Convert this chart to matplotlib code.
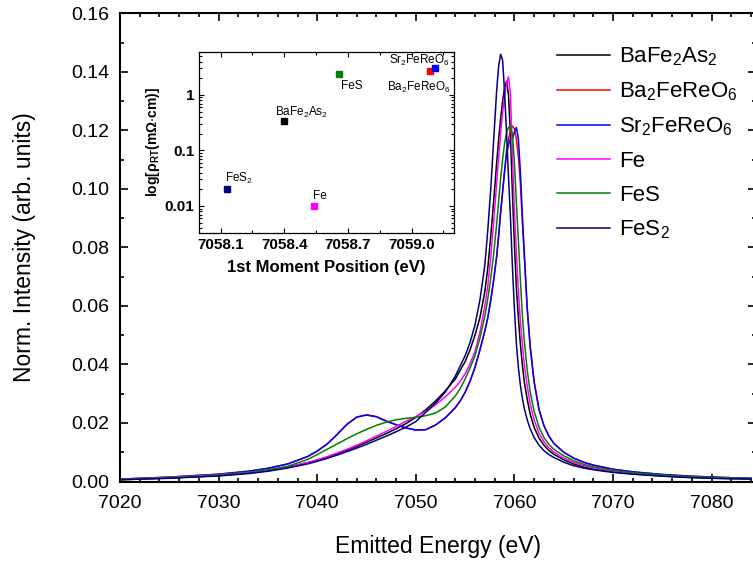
import numpy as np
import matplotlib
matplotlib.use("Agg")
import matplotlib.pyplot as plt
from matplotlib.ticker import MultipleLocator, FormatStrFormatter, FixedLocator, LogLocator, NullFormatter

plt.rcParams["font.family"] = ["Liberation Sans", "DejaVu Sans"]
plt.rcParams["mathtext.fontset"] = "custom"
plt.rcParams["mathtext.rm"] = "Liberation Sans"
plt.rcParams["mathtext.it"] = "Liberation Sans:italic"
plt.rcParams["mathtext.bf"] = "Liberation Sans:bold"
plt.rcParams["mathtext.default"] = "regular"

# emitted energy grid (eV)
energy = [7020, 7025, 7030, 7033, 7035, 7037, 7039, 7040, 7041, 7042, 7043, 7044,
          7045, 7046, 7047, 7048, 7049, 7050, 7051, 7052, 7053, 7054, 7054.5, 7055,
          7055.5, 7056, 7056.5, 7057, 7057.3, 7057.6, 7057.9, 7058.2, 7058.4, 7058.6,
          7058.8, 7059.0, 7059.2, 7059.4, 7059.6, 7059.8, 7060.0, 7060.2, 7060.4,
          7060.6, 7060.8, 7061.0, 7061.3, 7061.6, 7062.0, 7062.5, 7063, 7063.5, 7064,
          7065, 7066, 7067, 7068, 7070, 7072, 7075, 7078, 7081, 7084]

bafe2as2 = [0.0006, 0.0012, 0.0020, 0.0029, 0.0037, 0.0049, 0.0064, 0.0073, 0.0083, 0.0095,
            0.0107, 0.0120, 0.0134, 0.0149, 0.0164, 0.0180, 0.0198, 0.0219, 0.0245, 0.0275,
            0.0310, 0.0350, 0.0380, 0.0410, 0.0450, 0.0500, 0.0560, 0.0650, 0.0730, 0.0840,
            0.0960, 0.1090, 0.1170, 0.1240, 0.1300, 0.1345, 0.1368, 0.1320, 0.1180, 0.0980,
            0.0810, 0.0660, 0.0560, 0.0470, 0.0400, 0.0340, 0.0280, 0.0230, 0.0185, 0.0148,
            0.0124, 0.0106, 0.0093, 0.0074, 0.0060, 0.0050, 0.0043, 0.0033, 0.0026, 0.0019,
            0.0014, 0.0011, 0.0009]

ba2fereo6 = [0.0008, 0.0015, 0.0025, 0.0035, 0.0045, 0.0060, 0.0085, 0.0104, 0.0128, 0.0160,
             0.0195, 0.0220, 0.0228, 0.0222, 0.0207, 0.0194, 0.0183, 0.0176, 0.0177, 0.0193,
             0.0218, 0.0252, 0.0275, 0.0305, 0.0343, 0.0390, 0.0450, 0.0515, 0.0560, 0.0620,
             0.0690, 0.0770, 0.0840, 0.0920, 0.0990, 0.1060, 0.1130, 0.1170, 0.1200, 0.1215,
             0.1205, 0.1170, 0.1110, 0.1020, 0.0890, 0.0770, 0.0590, 0.0460, 0.0340, 0.0245,
             0.0190, 0.0155, 0.0130, 0.0100, 0.0080, 0.0066, 0.0056, 0.0042, 0.0033, 0.0024,
             0.0018, 0.0014, 0.0011]

sr2fereo6 = [0.0008, 0.0015, 0.0025, 0.0035, 0.0045, 0.0060, 0.0085, 0.0104, 0.0128, 0.0160,
             0.0195, 0.0220, 0.0227, 0.0221, 0.0206, 0.0194, 0.0183, 0.0176, 0.0177, 0.0193,
             0.0218, 0.0252, 0.0275, 0.0305, 0.0343, 0.0390, 0.0450, 0.0515, 0.0560, 0.0620,
             0.0690, 0.0770, 0.0840, 0.0920, 0.0990, 0.1060, 0.1120, 0.1150, 0.1172, 0.1170,
             0.1195, 0.1210, 0.1170, 0.1060, 0.0910, 0.0780, 0.0590, 0.0460, 0.0340, 0.0245,
             0.0190, 0.0155, 0.0130, 0.0100, 0.0080, 0.0066, 0.0056, 0.0042, 0.0033, 0.0024,
             0.0018, 0.0014, 0.0011]

fe = [0.0008, 0.0014, 0.0023, 0.0031, 0.0039, 0.0050, 0.0065, 0.0074, 0.0085, 0.0097,
      0.0110, 0.0124, 0.0139, 0.0155, 0.0171, 0.0188, 0.0206, 0.0222, 0.0240, 0.0262,
      0.0290, 0.0322, 0.0342, 0.0368, 0.0402, 0.0445, 0.0510, 0.0600, 0.0670, 0.0770,
      0.0890, 0.1020, 0.1110, 0.1190, 0.1260, 0.1315, 0.1360, 0.1383, 0.1320, 0.1110,
      0.0920, 0.0780, 0.0650, 0.0550, 0.0470, 0.0400, 0.0325, 0.0265, 0.0210, 0.0165,
      0.0136, 0.0115, 0.0100, 0.0080, 0.0065, 0.0054, 0.0046, 0.0035, 0.0027, 0.0020,
      0.0015, 0.0012, 0.0010]

fes = [0.0007, 0.0013, 0.0022, 0.0031, 0.0040, 0.0052, 0.0075, 0.0092, 0.0110, 0.0128,
       0.0146, 0.0163, 0.0178, 0.0192, 0.0203, 0.0211, 0.0216, 0.0219, 0.0225, 0.0234,
       0.0255, 0.0292, 0.0318, 0.0350, 0.0388, 0.0430, 0.0490, 0.0565, 0.0625, 0.0695,
       0.0780, 0.0880, 0.0960, 0.1035, 0.1100, 0.1155, 0.1192, 0.1210, 0.1215, 0.1185,
       0.1090, 0.0950, 0.0825, 0.0690, 0.0570, 0.0480, 0.0380, 0.0305, 0.0240, 0.0185,
       0.0150, 0.0127, 0.0110, 0.0088, 0.0071, 0.0059, 0.0050, 0.0038, 0.0030, 0.0022,
       0.0016, 0.0013, 0.0010]

fes2 = [0.0006, 0.0011, 0.0019, 0.0027, 0.0035, 0.0046, 0.0060, 0.0069, 0.0079, 0.0090,
        0.0102, 0.0114, 0.0127, 0.0141, 0.0155, 0.0170, 0.0186, 0.0205, 0.0236, 0.0268,
        0.0306, 0.0360, 0.0395, 0.0430, 0.0475, 0.0535, 0.0620, 0.0740, 0.0860, 0.1000,
        0.1170, 0.1338, 0.1420, 0.1460, 0.1440, 0.1330, 0.1190, 0.1040, 0.0900, 0.0730,
        0.0590, 0.0470, 0.0390, 0.0330, 0.0285, 0.0250, 0.0210, 0.0180, 0.0150, 0.0124,
        0.0105, 0.0092, 0.0082, 0.0066, 0.0054, 0.0046, 0.0040, 0.0031, 0.0025, 0.0018,
        0.0013, 0.0010, 0.0008]

series_labels = [r"BaFe$_2$As$_2$", r"Ba$_2$FeReO$_6$", r"Sr$_2$FeReO$_6$", "Fe", "FeS", r"FeS$_2$"]
series_colors = ["#000000", "#ff0000", "#0000ff", "#ff00ff", "#008000", "#000080"]
series_values = [bafe2as2, ba2fereo6, sr2fereo6, fe, fes, fes2]

# inset: first moment position vs room temperature resistivity
moment_pos = [7058.40, 7059.085, 7059.11, 7058.54, 7058.66, 7058.13]
resistivity = [0.336, 2.74, 3.10, 0.010, 2.36, 0.020]
point_labels = series_labels
# text offsets in points (dx, dy, ha)
label_offsets = [(-6.5, 6.5, "left"), (-8, -12, "center"), (-11, 5.5, "center"),
                 (-1, 7.5, "left"), (1, -8.5, "left"), (-1.5, 8, "left")]

fig = plt.figure(figsize=(7.53, 5.61), dpi=100)
ax = fig.add_axes([0.1594, 0.1417, 0.8446, 0.8346])

for vals, lab, col in zip(series_values, series_labels, series_colors):
    ax.plot(energy, vals, color=col, lw=1.1, label=lab)

ax.set_xlim(7020, 7084.5)
ax.set_ylim(0, 0.16)
ax.xaxis.set_major_locator(MultipleLocator(10))
ax.xaxis.set_minor_locator(MultipleLocator(2))
ax.yaxis.set_major_locator(MultipleLocator(0.02))
ax.yaxis.set_minor_locator(MultipleLocator(0.01))
ax.yaxis.set_major_formatter(FormatStrFormatter("%.2f"))
ax.tick_params(which="both", direction="in", top=True, right=True, width=1.2, labelsize=14)
ax.tick_params(which="major", length=5.5)
ax.tick_params(which="minor", length=3)
ax.tick_params(axis="x", pad=10)
ax.tick_params(axis="y", pad=8)
for s in ax.spines.values():
    s.set_linewidth(1.5)
ax.set_xlabel("Emitted Energy (eV)", fontsize=16.5, labelpad=16)
ax.set_ylabel("Norm. Intensity (arb. units)", fontsize=16.5, labelpad=25)

ax.legend(loc="upper left", bbox_to_anchor=(0.728, 0.935), bbox_transform=fig.transFigure,
          frameon=False, fontsize=16, handlelength=2.4, handletextpad=0.4,
          labelspacing=0.57, borderaxespad=0)

# inset
ins = fig.add_axes([0.2647, 0.5852, 0.3382, 0.3226])
for x, y, c, lab, (dx, dy, ha) in zip(moment_pos, resistivity, series_colors, point_labels, label_offsets):
    ins.plot([x], [y], marker="s", ms=5, color=c, mec=c, ls="none")
    ins.annotate(lab, (x, y), xytext=(dx, dy), textcoords="offset points",
                 ha=ha, va="center", fontsize=8.5)
ins.set_yscale("log")
ins.set_xlim(7058.0, 7059.2)
ins.set_ylim(0.0033, 6.0)
ins.xaxis.set_major_locator(FixedLocator([7058.1, 7058.4, 7058.7, 7059.0]))
ins.xaxis.set_minor_locator(FixedLocator([7058.25, 7058.55, 7058.85, 7059.15]))
ins.xaxis.set_major_formatter(FormatStrFormatter("%.1f"))
ins.yaxis.set_major_locator(FixedLocator([0.01, 0.1, 1]))
ins.set_yticklabels(["0.01", "0.1", "1"])
ins.yaxis.set_minor_locator(LogLocator(base=10, subs=np.arange(2, 10)))
ins.yaxis.set_minor_formatter(NullFormatter())
ins.tick_params(which="both", direction="in", top=True, right=True, labelsize=11, width=0.8)
ins.tick_params(which="major", length=3.5)
ins.tick_params(which="minor", length=2)
for lbl in ins.get_xticklabels() + ins.get_yticklabels():
    lbl.set_fontweight("bold")
for s in ins.spines.values():
    s.set_linewidth(0.9)
ins.set_xlabel("1st Moment Position (eV)", fontsize=12, fontweight="bold", labelpad=6)
ins.set_ylabel(r"log[$\mathbf{\rho_{RT}}$(m$\mathbf{\Omega}$$\cdot$cm)]", fontsize=10,
               fontweight="bold", labelpad=2)

fig.savefig("out.png", dpi=100)
